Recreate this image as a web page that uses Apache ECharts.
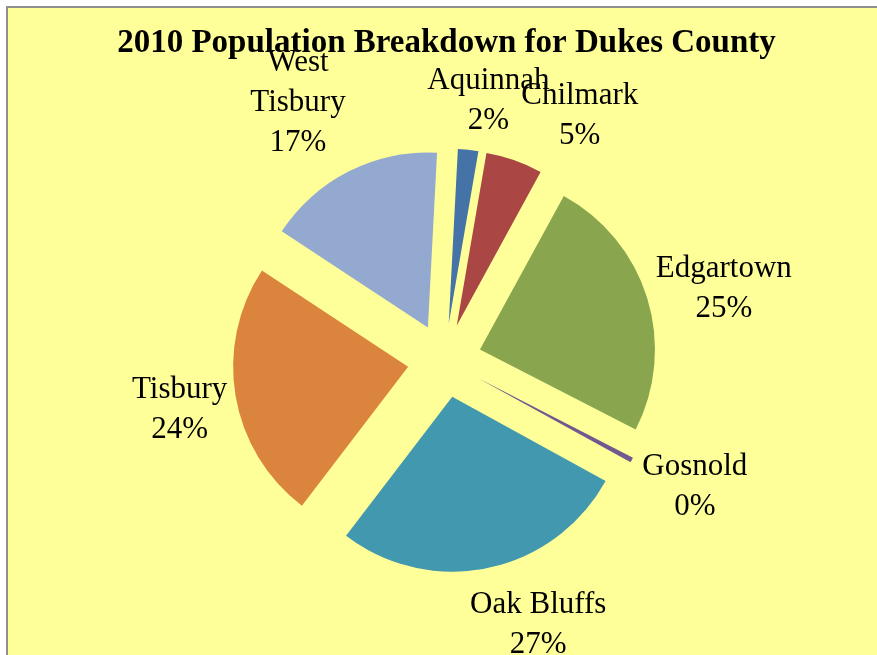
<!DOCTYPE html>
<html>
<head>
<meta charset="utf-8">
<title>2010 Population Breakdown for Dukes County</title>
<script src="https://cdn.jsdelivr.net/npm/echarts@6/dist/echarts.min.js"></script>
<style>
  html, body { margin: 0; padding: 0; background: #ffffff; }
  #frame {
    position: absolute; left: 6px; top: 6px; width: 880px; height: 660px;
    background: #FFFF99;
    border-left: 2px solid #8f8f8f; border-top: 2px solid #8f8f8f;
  }
  #chart { position: absolute; left: 0; top: 0; width: 877px; height: 655px; }
</style>
</head>
<body>
<div id="frame"></div>
<div id="chart"></div>
<script>
// Towns of Dukes County and their 2010 census population
const towns = ['Aquinnah', 'Chilmark', 'Edgartown', 'Gosnold', 'Oak Bluffs', 'Tisbury', 'West Tisbury'];
const population = [311, 866, 4067, 75, 4527, 3949, 2740];
// Label text as it is wrapped on the chart
const labelNames = ['Aquinnah', 'Chilmark', 'Edgartown', 'Gosnold', 'Oak Bluffs', 'Tisbury', 'West\nTisbury'];
const colors = ['#4572A7', '#AA4643', '#89A54E', '#71588F', '#4198AF', '#DB843D', '#93A9CF'];

// Pie geometry
const CENTER = [444.6, 360.5];
const RADIUS = 175;
const EXPLODE = 37;
const FIRST_ANGLE = 3; // degrees clockwise from 12 o'clock

// Label placement per slice: [angle nudge in degrees, distance from the slice's own centre]
const labelPlacement = [[3.6, 229], [10.8, 246], [2.5, 252], [-2, 242], [-9, 241], [-0.4, 232], [-2.9, 262]];
const LABEL_BASELINE_SHIFT = 3;

const total = population.reduce((a, b) => a + b, 0);
const midAngles = [];
let acc = 0;
population.forEach(v => {
  midAngles.push(FIRST_ANGLE + (acc + v / 2) / total * 360);
  acc += v;
});

function unit(deg) {
  const r = deg * Math.PI / 180;
  return [Math.sin(r), -Math.cos(r)];
}

// Each slice is pulled out along its bisector: one pie layer per town,
// drawn from the full data so the angles come from the library, with only
// that town's slice painted.
const series = towns.map((town, i) => {
  const m = unit(midAngles[i]);
  const sliceCenter = [CENTER[0] + EXPLODE * m[0], CENTER[1] + EXPLODE * m[1]];
  return {
    type: 'pie',
    name: town,
    center: sliceCenter,
    radius: [0, RADIUS],
    startAngle: 90 - FIRST_ANGLE,
    clockwise: true,
    percentPrecision: 0,
    avoidLabelOverlap: false,
    silent: true,
    emphasis: { disabled: true },
    labelLine: { show: false },
    label: {
      show: false,
      fontFamily: '"Liberation Serif", serif',
      fontSize: 31,
      lineHeight: 40,
      color: '#000000',
      align: 'center',
      formatter: p => labelNames[p.dataIndex] + '\n' + p.percent + '%'
    },
    labelLayout: params => {
      const j = params.dataIndex;
      const u = unit(midAngles[j] + labelPlacement[j][0]);
      return {
        x: sliceCenter[0] + labelPlacement[j][1] * u[0],
        y: sliceCenter[1] + labelPlacement[j][1] * u[1] + LABEL_BASELINE_SHIFT,
        align: 'center',
        verticalAlign: 'middle'
      };
    },
    data: towns.map((name, j) => ({
      name: name,
      value: population[j],
      itemStyle: { color: j === i ? colors[j] : 'rgba(0,0,0,0)', borderWidth: 0 },
      label: { show: j === i }
    }))
  };
});

const chart = echarts.init(document.getElementById('chart'), null, { renderer: 'canvas' });

chart.setOption({
  backgroundColor: 'transparent',
  animation: false,
  title: {
    text: '2010 Population Breakdown for Dukes County',
    left: 441.5,
    top: 22,
    textAlign: 'center',
    textStyle: {
      fontFamily: '"Liberation Serif", serif',
      fontWeight: 'bold',
      fontSize: 33,
      color: '#000000'
    }
  },
  series: series
});
</script>
</body>
</html>
